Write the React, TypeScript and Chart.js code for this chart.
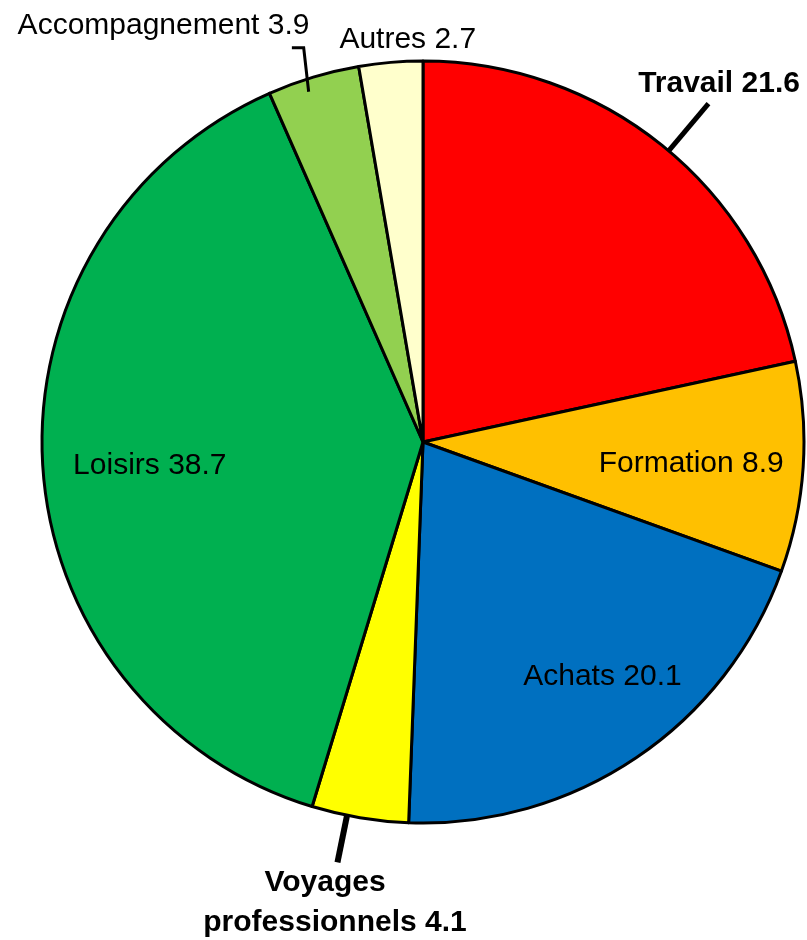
import React, { useEffect, useRef } from "react";
import { Chart, registerables } from "chart.js";

Chart.register(...registerables);

const categories: string[] = [
  "Travail",
  "Formation",
  "Achats",
  "Voyages professionnels",
  "Loisirs",
  "Accompagnement",
  "Autres",
];
const values: number[] = [21.6, 8.9, 20.1, 4.1, 38.7, 3.9, 2.7];
const sliceColors: string[] = [
  "#FF0000",
  "#FFC000",
  "#0070C0",
  "#FFFF00",
  "#00B050",
  "#92D050",
  "#FFFFCC",
];
// label text lines per slice
const labelLines: string[][] = [
  ["Travail 21.6"],
  ["Formation 8.9"],
  ["Achats 20.1"],
  ["Voyages", "professionnels 4.1"],
  ["Loisirs 38.7"],
  ["Accompagnement 3.9"],
  ["Autres 2.7"],
];
const labelBold: boolean[] = [true, false, false, true, false, false, false];

// label anchor positions relative to pie centre, in units of the radius (baseline, centred)
const labelPos: [number, number][][] = [
  [[0.777, -0.919]],
  [[0.704, 0.078]],
  [[0.471, 0.639]],
  [[-0.257, 1.179], [-0.231, 1.284]],
  [[-0.717, 0.084]],
  [[-0.681, -1.071]],
  [[-0.04, -1.035]],
];
// leader lines: [angleOffset1(deg), r1, angleOffset2(deg), r2, hook(frac of r), width]
const leaders: (number[] | null)[] = [
  [1.27, 1.0, 1.27, 1.162, 0, 5],
  null,
  null,
  [1.96, 1.0, 1.96, 1.126, 0, 6],
  null,
  [-1.34, 0.967, -0.1, 1.081, -0.031, 3],
  null,
];

const labelPlugin = {
  id: "pieLabels",
  afterDatasetsDraw(chart: any) {
    const meta = chart.getDatasetMeta(0);
    const ctx = chart.ctx as CanvasRenderingContext2D;
    ctx.save();
    meta.data.forEach((arc: any, i: number) => {
      const cx = arc.x;
      const cy = arc.y;
      const r = arc.outerRadius;
      const mid = (arc.startAngle + arc.endAngle) / 2;
      const ld = leaders[i];
      if (ld) {
        const a1 = mid + (ld[0] * Math.PI) / 180;
        const a2 = mid + (ld[2] * Math.PI) / 180;
        const x1 = cx + Math.cos(a1) * r * ld[1];
        const y1 = cy + Math.sin(a1) * r * ld[1];
        const x2 = cx + Math.cos(a2) * r * ld[3];
        const y2 = cy + Math.sin(a2) * r * ld[3];
        ctx.beginPath();
        ctx.strokeStyle = "#000";
        ctx.lineWidth = ld[5];
        ctx.lineCap = "butt";
        ctx.lineJoin = "miter";
        ctx.moveTo(x1, y1);
        ctx.lineTo(x2, y2);
        if (ld[4] !== 0) ctx.lineTo(x2 + ld[4] * r, y2);
        ctx.stroke();
      }
      ctx.fillStyle = "#000";
      ctx.textAlign = "center";
      ctx.textBaseline = "alphabetic";
      ctx.font = `${labelBold[i] ? "bold " : ""}30px "Liberation Sans", Arial, sans-serif`;
      labelLines[i].forEach((line, j) => {
        const p = labelPos[i][j];
        ctx.fillText(line, cx + p[0] * r, cy + p[1] * r);
      });
    });
    ctx.restore();
  },
};

export default function App() {
  const ref = useRef<HTMLCanvasElement | null>(null);
  useEffect(() => {
    document.body.style.margin = "0";
    const canvas = ref.current;
    if (!canvas) return;
    const chart = new Chart(canvas, {
      type: "pie",
      data: {
        labels: categories,
        datasets: [
          {
            data: values,
            backgroundColor: sliceColors,
            borderColor: "#000000",
            borderWidth: 3,
            hoverBorderWidth: 3,
            hoverOffset: 0,
            offset: 0,
            borderJoinStyle: "round",
          } as any,
        ],
      },
      options: {
        responsive: false,
        maintainAspectRatio: false,
        devicePixelRatio: 1,
        animation: false,
        events: [],
        layout: { padding: { left: 40.5, right: 1.5, top: 59.5, bottom: 115.5 } },
        plugins: {
          legend: { display: false },
          tooltip: { enabled: false },
        },
      },
      plugins: [labelPlugin],
    });
    return () => chart.destroy();
  }, []);
  return (
    <div style={{ position: "absolute", left: 0, top: 0, width: 807, height: 940, background: "#fff" }}>
      <canvas ref={ref} width={807} height={940} style={{ width: 807, height: 940 }} />
    </div>
  );
}
